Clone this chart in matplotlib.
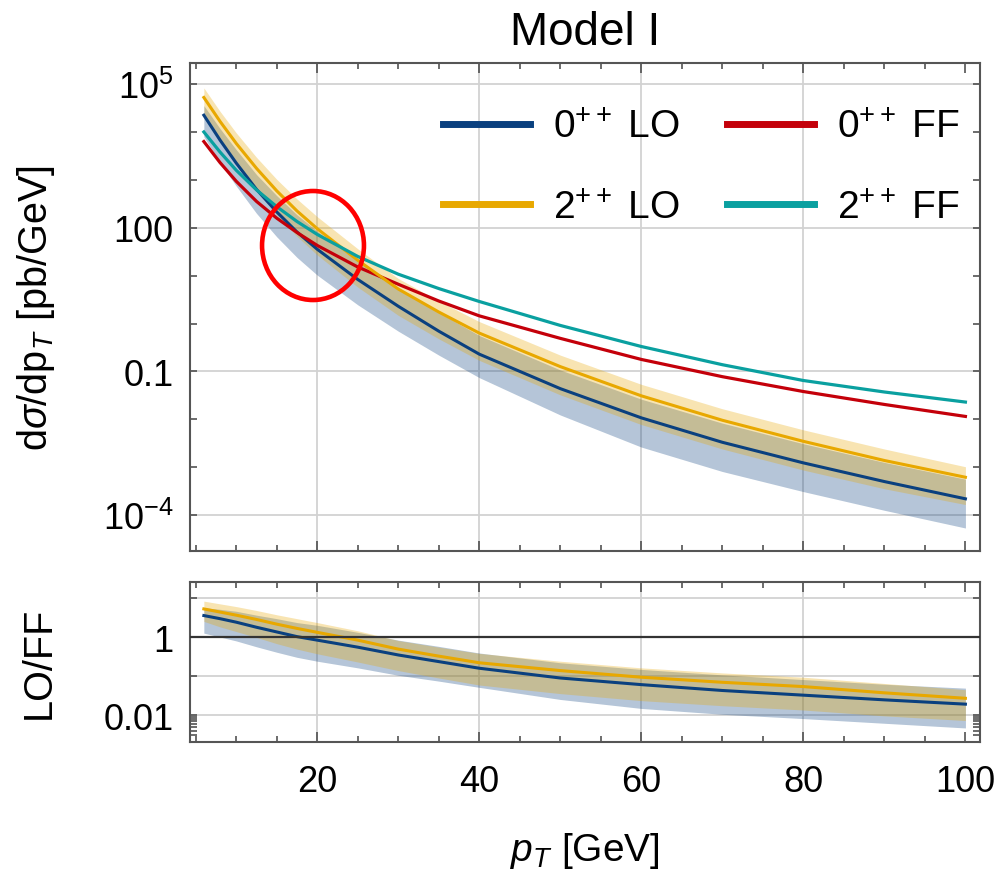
import numpy as np
import matplotlib
matplotlib.use("Agg")
import matplotlib.pyplot as plt
from matplotlib.patches import Ellipse
from matplotlib.ticker import FixedLocator, NullFormatter, FixedFormatter

plt.rcParams['font.family'] = ['Liberation Sans', 'DejaVu Sans']
plt.rcParams['mathtext.fontset'] = 'custom'
plt.rcParams['mathtext.rm'] = 'Liberation Sans'
plt.rcParams['mathtext.it'] = 'Liberation Sans:italic'
plt.rcParams['mathtext.bf'] = 'Liberation Sans:bold'

# pT points and log10(dsigma/dpT)
pt = [6, 8, 10, 12.5, 15, 17.5, 20, 25, 30, 35, 40, 50, 60, 70, 80, 90, 100]
lo0 = [4.35, 3.83, 3.35, 2.80, 2.33, 1.91, 1.55, 0.92, 0.36, -0.16, -0.64, -1.36, -1.97, -2.48, -2.91, -3.30, -3.66]
lo0_up = [4.55, 4.07, 3.63, 3.11, 2.67, 2.27, 1.93, 1.30, 0.74, 0.23, -0.25, -0.97, -1.58, -2.08, -2.51, -2.90, -3.25]
lo0_dn = [3.90, 3.36, 2.87, 2.30, 1.81, 1.38, 1.01, 0.39, -0.16, -0.66, -1.13, -1.91, -2.58, -3.09, -3.51, -3.90, -4.27]
ff0 = [3.80, 3.36, 2.97, 2.55, 2.20, 1.90, 1.63, 1.18, 0.82, 0.47, 0.16, -0.31, -0.75, -1.11, -1.42, -1.69, -1.94]
lo2 = [4.72, 4.22, 3.76, 3.24, 2.77, 2.35, 1.98, 1.32, 0.72, 0.24, -0.20, -0.90, -1.51, -2.02, -2.46, -2.86, -3.21]
lo2_up = [4.92, 4.43, 3.98, 3.47, 3.01, 2.60, 2.23, 1.56, 0.94, 0.47, 0.04, -0.66, -1.27, -1.78, -2.22, -2.62, -2.99]
lo2_dn = [4.40, 3.84, 3.34, 2.78, 2.27, 1.82, 1.43, 0.76, 0.17, -0.32, -0.77, -1.49, -2.11, -2.62, -3.06, -3.45, -3.78]
ff2 = [4.00, 3.58, 3.20, 2.79, 2.44, 2.13, 1.86, 1.40, 1.03, 0.73, 0.46, -0.04, -0.48, -0.86, -1.19, -1.43, -1.64]

labels = [r'$\mathregular{0^{++}}$ LO', r'$\mathregular{2^{++}}$ LO',
          r'$\mathregular{0^{++}}$ FF', r'$\mathregular{2^{++}}$ FF']
c_blue, c_red, c_yel, c_teal = '#0a407f', '#c4000a', '#e8a800', '#0aa0a0'

x = np.array(pt)
L = lambda a: 10 ** np.array(a)

fig = plt.figure(figsize=(10.03, 8.78), dpi=100)
ax = fig.add_axes([190/1003, 1 - 552/878, 790/1003, 488/878])
ax2 = fig.add_axes([190/1003, 1 - 743/878, 790/1003, 160/878])

# ---- top panel
ax.fill_between(x, L(lo0_dn), L(lo0_up), color=c_blue, alpha=0.3, lw=0)
h1, = ax.plot(x, L(lo0), color=c_blue, lw=2.2)
h2, = ax.plot(x, L(ff0), color=c_red, lw=2.3)
ax.fill_between(x, L(lo2_dn), L(lo2_up), color=c_yel, alpha=0.3, lw=0)
h3, = ax.plot(x, L(lo2), color=c_yel, lw=2.2)
h4, = ax.plot(x, L(ff2), color=c_teal, lw=2.3)

ax.set_yscale('log')
ax.set_xlim(4.29, 101.8)
ax.set_ylim(10 ** -4.75, 10 ** 5.44)

# ---- ratio panel
ff0a, ff2a = np.array(ff0), np.array(ff2)
ax2.fill_between(x, L(np.array(lo0_dn) - ff0a), L(np.array(lo0_up) - ff0a), color=c_blue, alpha=0.3, lw=0)
ax2.plot(x, L(np.array(lo0) - ff0a), color=c_blue, lw=2.2)
ax2.fill_between(x, L(np.array(lo2_dn) - ff2a), L(np.array(lo2_up) - ff2a), color=c_yel, alpha=0.3, lw=0)
ax2.plot(x, L(np.array(lo2) - ff2a), color=c_yel, lw=2.2)
ax2.axhline(1, color='#333333', lw=1.6, zorder=3)
ax2.set_yscale('log')
ax2.set_xlim(4.29, 101.8)
ax2.set_ylim(10 ** -2.69, 10 ** 1.41)

gridc = '#d2d2d2'
for a in (ax, ax2):
    for v in [20, 40, 60, 80]:
        a.axvline(v, color=gridc, lw=1.3, zorder=0)
    a.xaxis.set_major_locator(FixedLocator([20, 40, 60, 80, 100]))
    a.xaxis.set_minor_locator(FixedLocator(np.arange(5, 101, 5)))
    a.tick_params(which='both', direction='in', top=True, right=True,
                  colors='#444444', width=1.1, labelcolor='black')
    a.tick_params(which='major', length=7)
    a.tick_params(which='minor', length=4.5)
    for s in a.spines.values():
        s.set_color('#555555')
        s.set_linewidth(1.5)

for v in [1e5, 1e2, 1e-1, 1e-4]:
    ax.axhline(v, color=gridc, lw=1.3, zorder=0)
ax.yaxis.set_major_locator(FixedLocator([1e5, 1e2, 1e-1, 1e-4]))
ax.yaxis.set_major_formatter(FixedFormatter([r'$\mathregular{10^5}$', '100', '0.1', r'$\mathregular{10^{-4}}$']))
ax.yaxis.set_minor_locator(FixedLocator([1e4, 1e3, 1e1, 1e0, 1e-2, 1e-3]))
ax.yaxis.set_minor_formatter(NullFormatter())
ax.tick_params(axis='y', which='both', length=5)
ax.tick_params(axis='x', labelbottom=False)
ax.tick_params(axis='y', labelsize=26, pad=12)

for v in [10, 0.1, 0.01]:
    ax2.axhline(v, color=gridc, lw=1.3, zorder=0)
ax2.yaxis.set_major_locator(FixedLocator([10, 1, 0.1, 0.01]))
ax2.yaxis.set_major_formatter(FixedFormatter(['', '1', '', '0.01']))
ax2.yaxis.set_minor_locator(FixedLocator(np.arange(2, 10) * 1e-3))
ax2.yaxis.set_minor_formatter(NullFormatter())
ax2.tick_params(axis='y', which='both', length=5)
ax2.tick_params(axis='y', labelsize=26, pad=12)
ax2.tick_params(axis='x', labelsize=26, pad=16)

ax.set_title('Model I', fontsize=33, pad=14)
ax.set_ylabel(r'd$\sigma$/dp$_T$ [pb/GeV]', fontsize=28.5)
ax.yaxis.set_label_coords(-0.168, 0.5)
ax2.set_ylabel('LO/FF', fontsize=28.5)
ax2.yaxis.set_label_coords(-0.168, 0.5)
ax2.set_xlabel(r'$p_T$ [GeV]', fontsize=28, labelpad=22)

leg = ax.legend([h1, h3, h2, h4], labels, ncol=2, loc='upper left',
                bbox_to_anchor=(0.320, 0.905), frameon=False, fontsize=28,
                handlelength=2.24, handletextpad=0.6, columnspacing=1.2,
                labelspacing=1.15, borderpad=0, borderaxespad=0)
for ln in leg.get_lines():
    ln.set_linewidth(5)

ax.add_patch(Ellipse((0.1557, 0.626), 0.129, 0.2234, transform=ax.transAxes,
                     fill=False, edgecolor='#ff0000', lw=3.3, clip_on=False, zorder=5))

fig.savefig('out.png', dpi=100)
